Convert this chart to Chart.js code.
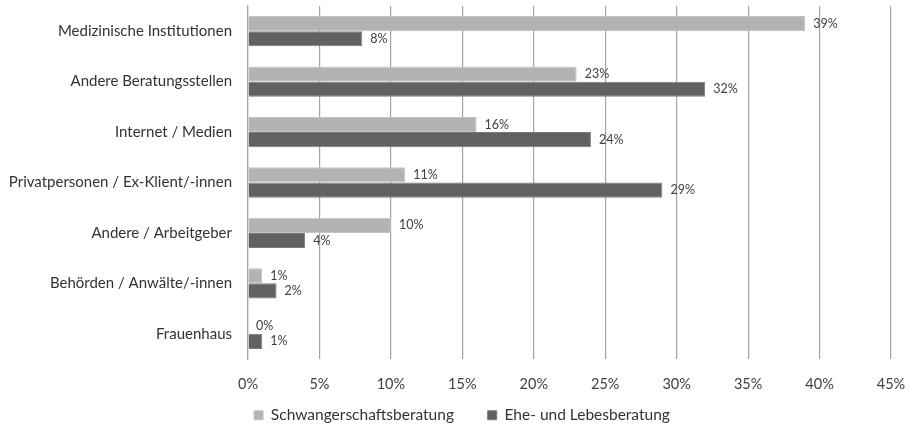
<!DOCTYPE html>
<html>
<head>
<meta charset="utf-8">
<script src="https://cdn.jsdelivr.net/npm/chart.js@4/dist/chart.umd.min.js"></script>
<style>
  html, body { margin: 0; padding: 0; background: #fff; }
  #wrap { width: 912px; height: 428px; }
</style>
</head>
<body>
<div id="wrap"><canvas id="myChart"></canvas></div>
<script>
'use strict';

const categories = [
  "Medizinische Institutionen",
  "Andere Beratungsstellen",
  "Internet / Medien",
  "Privatpersonen / Ex-Klient/-innen",
  "Andere / Arbeitgeber",
  "Behörden / Anwälte/-innen",
  "Frauenhaus",
];
const seriesNames = ["Schwangerschaftsberatung", "Ehe- und Lebesberatung"];
const schwangerschaft = [39, 23, 16, 11, 10, 1, 0];
const eheLebens = [8, 32, 24, 29, 4, 2, 1];
const xTicks = [0, 5, 10, 15, 20, 25, 30, 35, 40, 45];

const fontFamily = "Lato, 'Open Sans', sans-serif";

// writes the value next to the end of every bar
const barLabels = {
  id: "barLabels",
  afterDatasetsDraw(chart) {
    const ctx = chart.ctx;
    ctx.save();
    ctx.font = "12.5px " + fontFamily;
    ctx.fillStyle = "#404040";
    ctx.textAlign = "left";
    ctx.textBaseline = "middle";
    chart.data.datasets.forEach((ds, i) => {
      const meta = chart.getDatasetMeta(i);
      meta.data.forEach((bar, j) => {
        ctx.fillText(ds.data[j] + "%", bar.x + 8, bar.y);
      });
    });
    ctx.restore();
  },
};

new Chart(document.getElementById("myChart"), {
  type: "bar",
  data: {
    labels: categories,
    datasets: [
      {
        label: seriesNames[0],
        data: schwangerschaft,
        backgroundColor: "#b3b3b3",
        borderColor: "#c4c4c4",
        borderWidth: 1,
        categoryPercentage: 0.6,
        barPercentage: 1,
      },
      {
        label: seriesNames[1],
        data: eheLebens,
        backgroundColor: "#616161",
        borderColor: "#7a7a7a",
        borderWidth: 1,
        categoryPercentage: 0.6,
        barPercentage: 1,
      },
    ],
  },
  options: {
    indexAxis: "y",
    responsive: true,
    maintainAspectRatio: false,
    animation: false,
    layout: { padding: { top: 6, right: 0, left: 12, bottom: -5 } },
    scales: {
      x: {
        min: 0,
        max: 45,
        afterBuildTicks(axis) {
          axis.ticks = xTicks.map((v) => ({ value: v }));
        },
        afterFit(axis) {
          axis.height = 46.5;
          axis.paddingLeft = 0;
          axis.paddingRight = 21;
        },
        ticks: {
          padding: 17,
          color: "#404040",
          font: { family: fontFamily, size: 14.5 },
          callback: (v) => v + "%",
        },
        grid: { color: "#a4a4a4", lineWidth: 1.2, drawTicks: false },
        border: { display: false },
      },
      y: {
        afterFit(axis) {
          axis.width = 236;
          axis.paddingTop = 0;
          axis.paddingBottom = 0;
          // long label may run into the left padding, do not clip it
          axis._computeLabelArea = () => undefined;
        },
        ticks: {
          padding: 8,
          color: "#333333",
          font: { family: fontFamily, size: 15 },
        },
        grid: { display: false },
        border: { display: true, color: "#a4a4a4", width: 1.2 },
      },
    },
    plugins: {
      legend: {
        position: "bottom",
        labels: {
          boxWidth: 9,
          boxHeight: 9,
          padding: 2,
          color: "#333333",
          font: { family: fontFamily, size: 15.5, lineHeight: 1 },
          generateLabels(chart) {
            const items = Chart.defaults.plugins.legend.labels.generateLabels(chart);
            // trailing spaces keep the two entries apart like in the original
            items[0].text = items[0].text + "        ";
            return items;
          },
        },
      },
      tooltip: { enabled: false },
    },
  },
  plugins: [barLabels],
});
</script>
</body>
</html>
